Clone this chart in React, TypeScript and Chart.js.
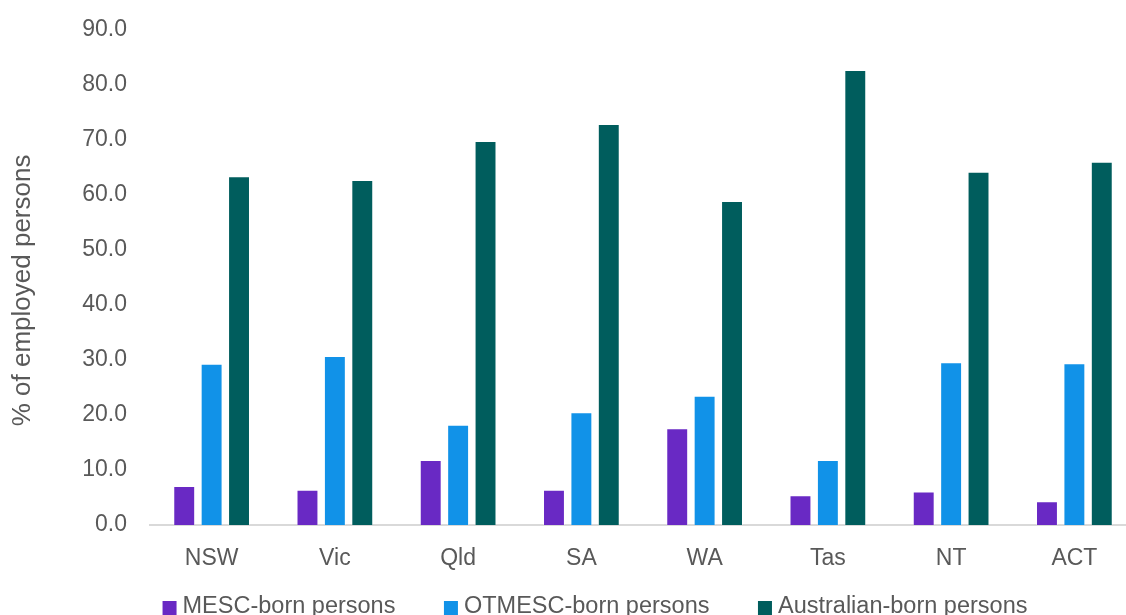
import React, { useEffect, useRef } from "react";
import { Chart, registerables } from "chart.js";

Chart.register(...registerables);

// Share of employed persons by birthplace group, per state / territory
const states = ["NSW", "Vic", "Qld", "SA", "WA", "Tas", "NT", "ACT"];
const mescBorn = [7.1, 6.4, 11.8, 6.4, 17.6, 5.4, 6.1, 4.3];
const otmescBorn = [29.3, 30.7, 18.2, 20.5, 23.5, 11.8, 29.6, 29.4];
const australianBorn = [63.4, 62.7, 69.8, 72.9, 58.9, 82.7, 64.2, 66.0];

const seriesLabels = ["MESC-born persons", "OTMESC-born persons", "Australian-born persons"];
const seriesColors = ["#6929c4", "#1192e8", "#005d5d"];
const yAxisTitle = "% of employed persons";

const FONT = "'Liberation Sans', Arial, sans-serif";
const TEXT_COLOR = "#595959";

// Rotated y-axis title plus a legend row under the category labels
const annotations = {
  id: "annotations",
  afterDraw(chart: any) {
    const { ctx, chartArea } = chart;
    ctx.save();

    // y-axis title
    ctx.font = `26px ${FONT}`;
    ctx.fillStyle = TEXT_COLOR;
    ctx.textAlign = "center";
    ctx.textBaseline = "middle";
    ctx.translate(23, (chartArea.top + chartArea.bottom) / 2 + 13);
    ctx.rotate(-Math.PI / 2);
    ctx.fillText(yAxisTitle, 0, 0);
    ctx.setTransform(1, 0, 0, 1, 0, 0);

    // legend
    const box = 14;
    const boxGap = 6;
    const itemGap = 48.5;
    ctx.font = `23.5px ${FONT}`;
    const items = chart.data.datasets.map((ds: any) => ({
      label: ds.label as string,
      color: ds.backgroundColor as string,
      w: box + boxGap + ctx.measureText(ds.label).width,
    }));
    const total = items.reduce((s: number, it: any) => s + it.w, 0) + itemGap * (items.length - 1);
    const centerX = (chartArea.left + chartArea.right) / 2 - 48;
    const y = chartArea.bottom + 82;
    let x = centerX - total / 2;
    ctx.textAlign = "left";
    for (const it of items) {
      ctx.fillStyle = it.color;
      ctx.fillRect(x, y - 6, box, box);
      ctx.fillStyle = TEXT_COLOR;
      ctx.fillText(it.label, x + box + boxGap, y);
      x += it.w + itemGap;
    }
    ctx.restore();
  },
};

export default function App() {
  const canvasRef = useRef<HTMLCanvasElement | null>(null);

  useEffect(() => {
    if (!canvasRef.current) return;
    const datasets = [mescBorn, otmescBorn, australianBorn].map((data, i) => ({
      label: seriesLabels[i],
      data,
      backgroundColor: seriesColors[i],
      borderColor: "rgba(255,255,255,0.3)",
      borderWidth: 1,
      categoryPercentage: 0.667,
      barPercentage: 0.8,
    }));

    const chart = new Chart(canvasRef.current, {
      type: "bar",
      data: { labels: states, datasets },
      plugins: [annotations],
      options: {
        responsive: false,
        animation: false,
        devicePixelRatio: 1,
        layout: { padding: { top: 8, right: 4, bottom: 44, left: 0 } },
        plugins: {
          legend: { display: false },
          tooltip: { enabled: false },
        },
        scales: {
          x: {
            grid: { display: false, drawTicks: false },
            border: { display: true, color: "#d9d9d9", width: 2 },
            ticks: {
              color: TEXT_COLOR,
              font: { family: FONT, size: 23 },
              padding: 20,
            },
            afterFit: (axis: any) => {
              axis.height = 46;
            },
          },
          y: {
            min: 0,
            max: 90,
            grid: { display: false, drawTicks: false },
            border: { display: false },
            ticks: {
              stepSize: 10,
              color: TEXT_COLOR,
              font: { family: FONT, size: 23 },
              padding: 23,
              callback: (v: any) => Number(v).toFixed(1),
            },
            afterFit: (axis: any) => {
              axis.width = 150;
            },
          },
        },
      },
    });
    return () => chart.destroy();
  }, []);

  return (
    <div
      style={{
        position: "fixed",
        left: 0,
        top: 0,
        width: 1126,
        height: 615,
        overflow: "hidden",
        background: "#ffffff",
      }}
    >
      <canvas
        ref={canvasRef}
        width={1140}
        height={622}
        style={{ display: "block", marginTop: -7 }}
      />
    </div>
  );
}
